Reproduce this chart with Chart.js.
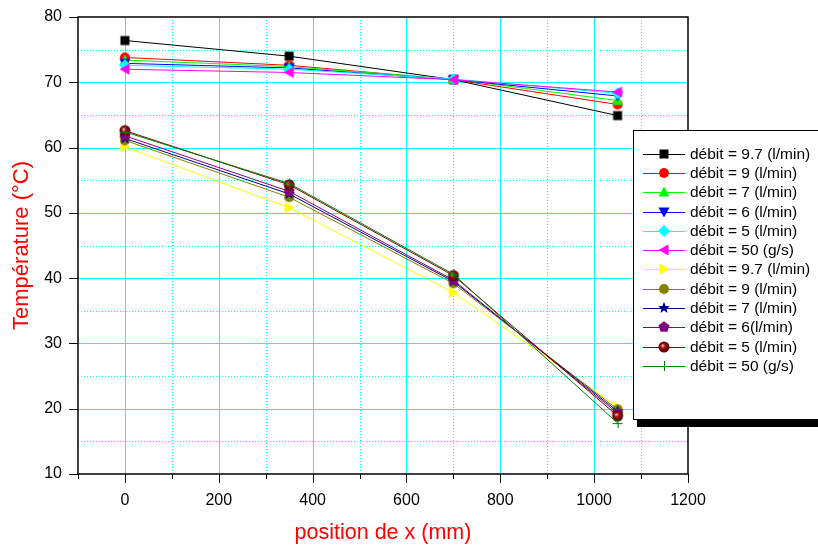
<!DOCTYPE html>
<html><head><meta charset="utf-8">
<script src="https://cdn.jsdelivr.net/npm/chart.js@4/dist/chart.umd.min.js"></script>
<style>
html,body{margin:0;padding:0;background:#fff;overflow:hidden}
#wrap{position:relative;width:818px;height:547px}
#legend{position:absolute;left:633px;top:130px;width:200px;height:290px;border:1px solid #000;background:#fff;box-shadow:4px 7px 0 #000;box-sizing:border-box;padding-top:13px;font-family:"Liberation Sans",Arial,sans-serif;font-size:15.5px;color:#000}
.row{height:19.3px;display:flex;align-items:center;white-space:nowrap}
.row canvas{margin-left:9px;margin-right:5px;flex:none}
</style></head>
<body><div id="wrap"><canvas id="c" width="818" height="547"></canvas><div id="legend"></div></div>
<script>
// ---- data ----
const positions = [0, 350, 700, 1050];
const xTickLabels = [0, 200, 400, 600, 800, 1000, 1200];
const yTickLabels = [10, 20, 30, 40, 50, 60, 70, 80];
const seriesNames = [
  'débit = 9.7 (l/min)', 'débit = 9 (l/min)', 'débit = 7 (l/min)', 'débit = 6 (l/min)',
  'débit = 5 (l/min)', 'débit = 50 (g/s)', 'débit = 9.7 (l/min)', 'débit = 9 (l/min)',
  'débit = 7 (l/min)', 'débit = 6(l/min)', 'débit = 5 (l/min)', 'débit = 50 (g/s)'
];
const hot97 = [76.4, 74.0, 70.4, 64.9];
const hot9  = [73.8, 72.6, 70.4, 66.6];
const hot7  = [73.4, 72.4, 70.5, 67.2];
const hot6  = [72.9, 72.2, 70.4, 67.9];
const hot5  = [72.6, 72.0, 70.5, 68.3];
const hot50 = [72.0, 71.5, 70.4, 68.5];
const cold97 = [60.1, 50.8, 37.8, 20.3];
const cold9  = [61.1, 52.4, 39.2, 19.9];
const cold7  = [61.4, 52.9, 39.5, 19.6];
const cold6  = [61.8, 53.3, 39.7, 19.3];
const cold5  = [62.6, 54.3, 40.4, 18.9];
const cold50 = [62.4, 54.5, 40.6, 17.8];
const seriesValues = [hot97, hot9, hot7, hot6, hot5, hot50, cold97, cold9, cold7, cold6, cold5, cold50];

// ---- styles ----
const colors = ['#000000','#ff0000','#00ff00','#0000ff','#00ffff','#ff00ff','#ffff00','#808000','#000080','#800080','#800000','#008000'];
const shapes = ['square','circle','up','down','diamond','left','right','circle','star','pentagon','sphere','plus'];
const FONT = '"Liberation Sans", Arial, sans-serif';

function poly(ctx, cx, cy, pts){ctx.beginPath();pts.forEach((p,i)=>i?ctx.lineTo(cx+p[0],cy+p[1]):ctx.moveTo(cx+p[0],cy+p[1]));ctx.closePath();ctx.fill();}
function drawMarker(ctx, shape, cx, cy, color){
  ctx.save(); ctx.fillStyle=color; ctx.strokeStyle=color;
  switch(shape){
    case 'square': ctx.fillRect(cx-4.5,cy-4.5,9,9); break;
    case 'circle': ctx.beginPath(); ctx.arc(cx,cy,5,0,Math.PI*2); ctx.fill(); break;
    case 'up': poly(ctx,cx,cy,[[0,-5.5],[5.5,4.5],[-5.5,4.5]]); break;
    case 'down': poly(ctx,cx,cy,[[0,5.5],[5.5,-4.5],[-5.5,-4.5]]); break;
    case 'left': poly(ctx,cx,cy,[[-5.5,0],[4.5,-5.5],[4.5,5.5]]); break;
    case 'right': poly(ctx,cx,cy,[[5.5,0],[-4.5,-5.5],[-4.5,5.5]]); break;
    case 'diamond': poly(ctx,cx,cy,[[0,-6],[6,0],[0,6],[-6,0]]); break;
    case 'star': { const pts=[]; for(let i=0;i<10;i++){const r=i%2?2.6:6.2;const a=-Math.PI/2+i*Math.PI/5;pts.push([r*Math.cos(a),r*Math.sin(a)]);} poly(ctx,cx,cy,pts); break; }
    case 'pentagon': { const pts=[]; for(let i=0;i<5;i++){const a=-Math.PI/2+i*2*Math.PI/5;pts.push([5.8*Math.cos(a),5.8*Math.sin(a)]);} poly(ctx,cx,cy,pts); break; }
    case 'sphere': { const g=ctx.createRadialGradient(cx-1.5,cy-1.5,0.5,cx,cy,5.5); g.addColorStop(0,'#f0b0b0'); g.addColorStop(0.35,'#a01010'); g.addColorStop(1,'#500000'); ctx.fillStyle=g; ctx.beginPath(); ctx.arc(cx,cy,5.5,0,Math.PI*2); ctx.fill(); break; }
    case 'plus': ctx.lineWidth=1; ctx.beginPath(); ctx.moveTo(cx-5,cy+0.5); ctx.lineTo(cx+5,cy+0.5); ctx.moveTo(cx+0.5,cy-5); ctx.lineTo(cx+0.5,cy+5); ctx.stroke(); break;
  }
  ctx.restore();
}
function markerCanvas(shape, color){
  const c=document.createElement('canvas'); c.width=16; c.height=16;
  drawMarker(c.getContext('2d'), shape, 8, 8, color); return c;
}

const datasets = seriesValues.map((vals, i) => ({
  label: seriesNames[i],
  data: positions.map((p, k) => ({x: p, y: vals[k]})),
  borderColor: colors[i], backgroundColor: colors[i], borderWidth: 1,
  pointStyle: markerCanvas(shapes[i], colors[i]), pointRadius: 5, tension: 0,
  order: -i
}));

const isMajorX = v => Math.round(v) % 200 === 0;
const isMajorY = v => Math.round(v) % 10 === 0;

const gridPlugin = {
  id: 'gridlines',
  beforeDatasetsDraw(chart){
    const {ctx, chartArea:a, scales:{x, y}} = chart;
    ctx.save(); ctx.strokeStyle='#00ffff'; ctx.lineWidth=1;
    x.ticks.forEach(t => {
      if (t.value <= -100 || t.value >= 1200) return;
      const px=Math.round(x.getPixelForValue(t.value))+0.5;
      ctx.setLineDash(isMajorX(t.value) ? [] : [1, 2]);
      ctx.beginPath(); ctx.moveTo(px,a.top); ctx.lineTo(px,a.bottom); ctx.stroke();
    });
    y.ticks.forEach(t => {
      if (t.value <= 10 || t.value >= 80) return;
      const py=Math.round(y.getPixelForValue(t.value))+0.5;
      ctx.setLineDash(isMajorY(t.value) ? [] : [1, 2]);
      ctx.beginPath(); ctx.moveTo(a.left,py); ctx.lineTo(a.right,py); ctx.stroke();
    });
    ctx.restore();
  },
  afterDraw(chart){
    const {ctx, chartArea:a, scales:{x, y}} = chart;
    ctx.save(); ctx.strokeStyle='#000';
    ctx.lineWidth=1;
    x.ticks.forEach(t => {
      const px=Math.round(x.getPixelForValue(t.value))+0.5; const len=isMajorX(t.value)?9:5;
      ctx.beginPath(); ctx.moveTo(px,a.bottom); ctx.lineTo(px,a.bottom+len); ctx.stroke();
    });
    y.ticks.forEach(t => {
      if (!isMajorY(t.value)) return;
      const py=Math.round(y.getPixelForValue(t.value))+0.5;
      ctx.beginPath(); ctx.moveTo(a.left,py); ctx.lineTo(a.left-9,py); ctx.stroke();
    });
    ctx.lineWidth=1.5;
    ctx.strokeRect(a.left, a.top, a.right-a.left, a.bottom-a.top);
    ctx.restore();
  }
};

new Chart(document.getElementById('c'), {
  type: 'line',
  data: { datasets },
  options: {
    responsive: false, animation: false,
    layout: { padding: { top: 17, right: 130, left: 0, bottom: 0 } },
    plugins: { legend: { display: false }, tooltip: { enabled: false } },
    scales: {
      x: {
        type: 'linear', min: -100, max: 1200,
        afterFit: s => { s.height = 73; },
        ticks: { stepSize: 100, autoSkip: false, maxRotation: 0, padding: 17, color: '#000',
          font: { family: FONT, size: 16 },
          callback: v => xTickLabels.includes(Math.round(v)) ? String(Math.round(v)) : '' },
        grid: { display: false, drawTicks: false },
        border: { display: false },
        title: { display: true, text: 'position de x (mm)', color: '#ff0000', font: { family: FONT, size: 21.5 }, padding: { top: 0, bottom: 1 } }
      },
      y: {
        type: 'linear', min: 10, max: 80,
        afterFit: s => { s.width = 78; s.paddingTop = 0; s.paddingBottom = 0; },
        ticks: { stepSize: 5, autoSkip: false, padding: 16, color: '#000',
          font: { family: FONT, size: 16 },
          callback: v => yTickLabels.includes(Math.round(v)) && isMajorY(v) ? String(Math.round(v)) : '' },
        grid: { display: false, drawTicks: false },
        border: { display: false },
        title: { display: true, text: 'Température (°C)', color: '#ff0000', font: { family: FONT, size: 22 }, padding: { top: 9, bottom: 0 } }
      }
    }
  },
  plugins: [gridPlugin]
});

// ---- HTML legend ----
const leg = document.getElementById('legend');
seriesNames.forEach((name, i) => {
  const row = document.createElement('div'); row.className = 'row';
  const c = document.createElement('canvas'); c.width = 42; c.height = 16;
  const ctx = c.getContext('2d');
  ctx.strokeStyle = colors[i]; ctx.lineWidth = 1;
  ctx.beginPath(); ctx.moveTo(0, 8.5); ctx.lineTo(42, 8.5); ctx.stroke();
  drawMarker(ctx, shapes[i], 21, 8, colors[i]);
  const t = document.createElement('span'); t.textContent = name;
  row.appendChild(c); row.appendChild(t); leg.appendChild(row);
});
</script>
</body></html>
